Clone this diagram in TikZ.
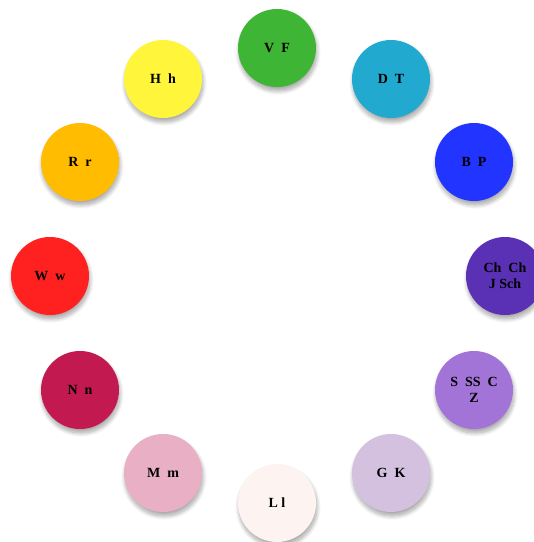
\documentclass[tikz,border=0pt]{standalone}
\usepackage{fontspec}
\setmainfont{Liberation Serif}
\usetikzlibrary{shadows.blur}
\definecolor{cVF}{HTML}{3FB535}
\definecolor{cDT}{HTML}{22A9D0}
\definecolor{cBP}{HTML}{2234FF}
\definecolor{cCh}{HTML}{5A31B5}
\definecolor{cSZ}{HTML}{A374D8}
\definecolor{cGK}{HTML}{D4C1E0}
\definecolor{cLl}{HTML}{FDF3F0}
\definecolor{cMm}{HTML}{E8AFC5}
\definecolor{cNn}{HTML}{C21A50}
\definecolor{cWw}{HTML}{FF2020}
\definecolor{cRr}{HTML}{FFBC00}
\definecolor{cHh}{HTML}{FFF53A}
\tikzset{
  disc/.style={circle, minimum size=78pt, inner sep=0pt, align=center,
    font=\fontsize{14}{16}\selectfont\bfseries, text=black,
    blur shadow={shadow xshift=1pt, shadow yshift=-4pt, shadow opacity=35, shadow blur steps=12, shadow blur radius=4pt}}
}
\begin{document}
\begin{tikzpicture}[x=1pt,y=-1pt]
\useasboundingbox (0,0) rectangle (534,542);
\begin{scope}
\clip (0,0) rectangle (534,542);
\node[disc, fill=cVF] (vf) at (277,48) {V\enspace F};
\node[disc, fill=cDT] (dt) at (391,79) {D\enspace T};
\node[disc, fill=cBP] (bp) at (474,162) {B\enspace P};
\node[disc, fill=cCh] (ch) at (505,276) {Ch\enspace Ch\\J\ Sch};
\node[disc, fill=cSZ] (sz) at (474,390) {S\enspace SS\enspace C\\Z};
\node[disc, fill=cGK] (gk) at (391,473) {G\enspace K};
\node[disc, fill=cLl] (ll) at (277,503) {L\ l};
\node[disc, fill=cMm] (mm) at (163,473) {M\enspace m};
\node[disc, fill=cNn] (nn) at (80,390) {N\enspace n};
\node[disc, fill=cWw] (ww) at (50,276) {W\enspace w};
\node[disc, fill=cRr] (rr) at (80,162) {R\enspace r};
\node[disc, fill=cHh] (hh) at (163,79) {H\enspace h};
\end{scope}
\end{tikzpicture}
\end{document}
